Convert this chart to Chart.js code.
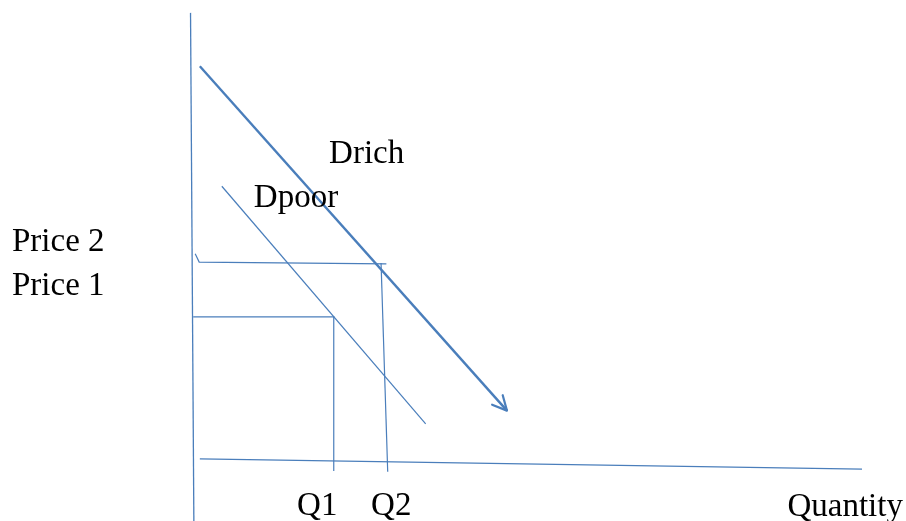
<!DOCTYPE html>
<html>
<head>
<meta charset="utf-8">
<script src="https://cdn.jsdelivr.net/npm/chart.js@4.4.1/dist/chart.umd.min.js"></script>
<style>
  html, body { margin: 0; padding: 0; background: #fff; }
  #wrap { width: 906px; height: 521px; position: relative; }
</style>
</head>
<body>
<div id="wrap"><canvas id="chart"></canvas></div>
<script>
// demand curves (quantity, price)
const drichQty = [1.0, 47.1];
const drichPrice = [85.6, 10.7];
const dpoorQty = [4.3, 34.9];
const dpoorPrice = [59.5, 7.8];

// guide lines for the two price / quantity levels
const price2Qty = [0.3, 0.9, 29.0];
const price2Val = [44.8, 43.0, 42.6];
const price1Qty = [0.0, 21.2];
const price1Val = [31.1, 31.1];
const q2Qty = [28.2, 29.2];
const q2Val = [42.8, -2.6];
const q1Qty = [21.1, 21.1];
const q1Val = [31.1, -2.4];

// hand drawn axes
const yAxisQty = [-0.4, 0.1];
const yAxisVal = [97.2, -13.3];
const xAxisQty = [1.0, 100.4];
const xAxisVal = [0.2, -2.0];

// text
const curveNames = ['Drich', 'Dpoor'];
const priceNames = ['Price 2', 'Price 1'];
const quantityNames = ['Q1', 'Q2', 'Quantity'];

const BLUE = '#4a7ebb';
const FONT = '33px "Liberation Serif", "Times New Roman", serif';

function pts(xs, ys) {
  return xs.map((x, i) => ({ x: x, y: ys[i] }));
}

function line(label, xs, ys, width) {
  return {
    label: label,
    data: pts(xs, ys),
    showLine: true,
    borderColor: BLUE,
    backgroundColor: BLUE,
    borderWidth: width,
    pointRadius: 0,
    tension: 0
  };
}

// where each text sits, in chart units
const textSpots = [
  { text: priceNames[0], x: -27.2, y: 45.4 },
  { text: priceNames[1], x: -27.2, y: 35.8 },
  { text: curveNames[0], x: 20.4, y: 64.6 },
  { text: curveNames[1], x: 9.1, y: 55.0 },
  { text: quantityNames[0], x: 15.6, y: -12.0 },
  { text: quantityNames[1], x: 26.7, y: -12.0 },
  { text: quantityNames[2], x: 89.2, y: -12.2 }
];

const arrowHead = {
  id: 'arrowHead',
  afterDatasetsDraw(chart) {
    const meta = chart.getDatasetMeta(0);
    const a = meta.data[meta.data.length - 2];
    const b = meta.data[meta.data.length - 1];
    const ang = Math.atan2(b.y - a.y, b.x - a.x);
    const ctx = chart.ctx;
    ctx.save();
    ctx.strokeStyle = BLUE;
    ctx.lineWidth = 2.2;
    ctx.lineCap = 'round';
    ctx.beginPath();
    [-0.46, 0.46].forEach(off => {
      ctx.moveTo(b.x, b.y);
      ctx.lineTo(b.x - 16 * Math.cos(ang + off), b.y - 16 * Math.sin(ang + off));
    });
    ctx.stroke();
    ctx.restore();
  }
};

const textLabels = {
  id: 'textLabels',
  afterDraw(chart) {
    const ctx = chart.ctx;
    ctx.save();
    ctx.fillStyle = '#000';
    ctx.font = FONT;
    ctx.textAlign = 'left';
    ctx.textBaseline = 'alphabetic';
    textSpots.forEach(t => {
      ctx.fillText(t.text, chart.scales.x.getPixelForValue(t.x), chart.scales.y.getPixelForValue(t.y));
    });
    ctx.restore();
  }
};

new Chart(document.getElementById('chart'), {
  type: 'scatter',
  data: {
    datasets: [
      line('Drich', drichQty, drichPrice, 2.4),
      line('Dpoor', dpoorQty, dpoorPrice, 1.2),
      line('Price 2', price2Qty, price2Val, 1.2),
      line('Price 1', price1Qty, price1Val, 1.2),
      line('Q2', q2Qty, q2Val, 1.2),
      line('Q1', q1Qty, q1Val, 1.2),
      line('Price axis', yAxisQty, yAxisVal, 1.3),
      line('Quantity axis', xAxisQty, xAxisVal, 1.3)
    ]
  },
  options: {
    responsive: true,
    maintainAspectRatio: false,
    animation: false,
    layout: { padding: 0 },
    plugins: {
      legend: { display: false },
      tooltip: { enabled: false }
    },
    scales: {
      x: { type: 'linear', min: -29, max: 107, display: false },
      y: { type: 'linear', min: -13.3, max: 100, display: false }
    }
  },
  plugins: [arrowHead, textLabels]
});
</script>
</body>
</html>
